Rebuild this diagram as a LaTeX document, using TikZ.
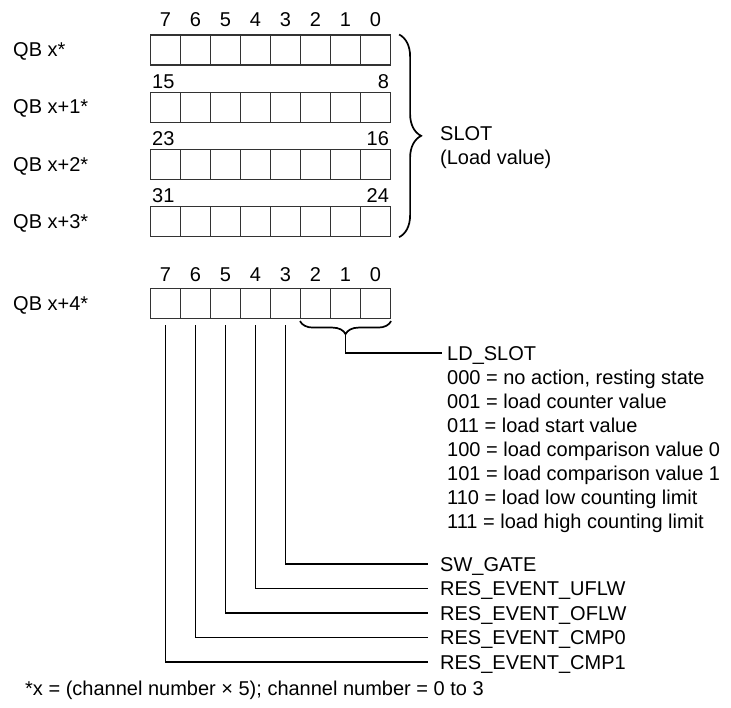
\documentclass[tikz,border=0pt]{standalone}
\usepackage{fontspec}
\setmainfont{Liberation Sans}
\usetikzlibrary{decorations.pathreplacing,calc}
\begin{document}
\begin{tikzpicture}[x=1pt,y=-1pt,
  cell/.style={draw=black!80, line width=1.1pt, minimum width=30pt, minimum height=30pt, inner sep=0pt, anchor=north west},
  lbl/.style={font=\fontsize{20}{24}\selectfont, inner sep=0pt, text height=14.3pt, text depth=0pt, anchor=west},
  num/.style={font=\fontsize{20}{24}\selectfont, inner sep=0pt, text height=14.3pt, text depth=0pt},
  conn/.style={line width=1.8pt, black},
  bracestyle/.style={line width=1.7pt, black, decorate}]
\useasboundingbox (0,0) rectangle (731,708);
\fill[white] (0,0) rectangle (731,708);

% cells
\foreach \r/\ty in {0/34.5,1/91.7,2/148.9,3/206.1,4/288}{
  \foreach \i in {0,...,7}{
    \node[cell] (c\r-\i) at ({150+30*(7-\i)},\ty) {};
  }
}

% bit numbers
\foreach \i in {0,...,7}{
  \node[num] (ta\i) at ($(c0-\i.north)+(0,-15.5)$) {\i};
  \node[num] (tb\i) at ($(c4-\i.north)+(0,-14)$) {\i};
}
\node[lbl] (h1) at ($(c1-7.north west)+(2,-10.7)$) {15};
\node[lbl,anchor=east] (l1) at ($(c1-0.north east)+(-2,-10.7)$) {8};
\node[lbl] (h2) at ($(c2-7.north west)+(2,-10.7)$) {23};
\node[lbl,anchor=east] (l2) at ($(c2-0.north east)+(-2,-10.7)$) {16};
\node[lbl] (h3) at ($(c3-7.north west)+(2,-10.7)$) {31};
\node[lbl,anchor=east] (l3) at ($(c3-0.north east)+(-2,-10.7)$) {24};

% row labels
\node[lbl] (q0) at (13,49.5) {QB x*};
\node[lbl] (q1) at (13,106.7) {QB x+1*};
\node[lbl] (q2) at (13,163.9) {QB x+2*};
\node[lbl] (q3) at (13,221.1) {QB x+3*};
\node[lbl] (q4) at (13,303) {QB x+4*};

% SLOT brace
\draw[bracestyle, decoration={brace, amplitude=22pt}]
  ([xshift=8pt]c0-0.north east) -- ([xshift=8pt]c3-0.south east);
\node[lbl] (slot) at (440,133) {SLOT};
\node[lbl] (loadv) at (440,157) {(Load value)};

% LD_SLOT brace
\draw[bracestyle, decoration={brace, amplitude=13pt}]
  ([yshift=-2pt]c4-0.south east) -- ([yshift=-2pt]c4-2.south west);
\coordinate (ldtip) at ($(c4-1.south)+(0,15)$);
\node[lbl] (ld) at (447,353) {LD\_SLOT};
\draw[conn] (ldtip) |- ([xshift=-5pt]ld.west);

\node[lbl] (v0) at (447,377) {000 = no action, resting state};
\node[lbl] (v1) at (447,401) {001 = load counter value};
\node[lbl] (v2) at (447,425) {011 = load start value};
\node[lbl] (v3) at (447,449) {100 = load comparison value 0};
\node[lbl] (v4) at (447,473) {101 = load comparison value 1};
\node[lbl] (v5) at (447,497) {110 = load low counting limit};
\node[lbl] (v6) at (447,521) {111 = load high counting limit};

% bit labels
\node[lbl] (sw) at (440,564) {SW\_GATE};
\node[lbl] (uf) at (440,588.5) {RES\_EVENT\_UFLW};
\node[lbl] (of) at (440,613) {RES\_EVENT\_OFLW};
\node[lbl] (cm0) at (440,637.5) {RES\_EVENT\_CMP0};
\node[lbl] (cm1) at (440,662) {RES\_EVENT\_CMP1};

\draw[conn] ([yshift=-6pt]c4-3.south) |- ([xshift=-12pt]sw.west);
\draw[conn] ([yshift=-6pt]c4-4.south) |- ([xshift=-12pt]uf.west);
\draw[conn] ([yshift=-6pt]c4-5.south) |- ([xshift=-12pt]of.west);
\draw[conn] ([yshift=-6pt]c4-6.south) |- ([xshift=-12pt]cm0.west);
\draw[conn] ([yshift=-6pt]c4-7.south) |- ([xshift=-12pt]cm1.west);

% footnote
\node[lbl] (foot) at (25,688) {*x = (channel number × 5); channel number = 0 to 3};
\end{tikzpicture}
\end{document}
